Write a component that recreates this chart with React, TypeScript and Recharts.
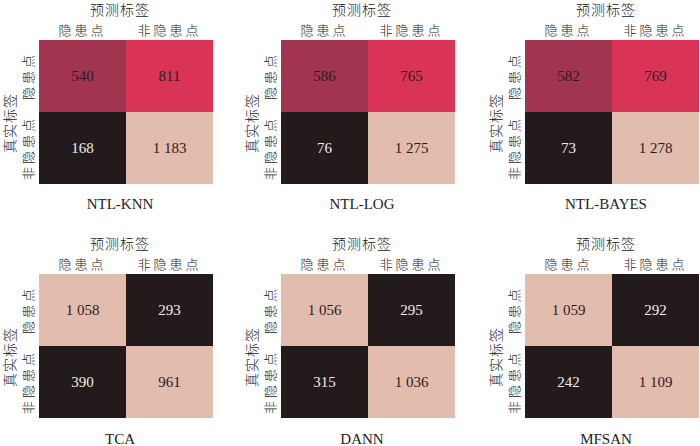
import React from 'react';
import { ScatterChart, Scatter, XAxis, YAxis, Label } from 'recharts';

// row-major: [真实=隐患点 → 预测 隐患点, 非隐患点], [真实=非隐患点 → ...]
const predLabels = ['隐患点', '非隐患点'];
const trueLabels = ['隐患点', '非隐患点'];
const modelNames = ['NTL-KNN', 'NTL-LOG', 'NTL-BAYES', 'TCA', 'DANN', 'MFSAN'];

const knnValues = [540, 811, 168, 1183];
const logValues = [586, 765, 76, 1275];
const bayesValues = [582, 769, 73, 1278];
const tcaValues = [1058, 293, 390, 961];
const dannValues = [1056, 295, 315, 1036];
const mfsanValues = [1059, 292, 242, 1109];

const allValues = [knnValues, logValues, bayesValues, tcaValues, dannValues, mfsanValues];

const binColors = ['#231a1b', '#a1344f', '#d93456', '#e2bcad'];

const CJK = '"Noto Sans CJK SC", sans-serif';
const SERIF = '"Liberation Serif", "Times New Roman", serif';

const AXIS_W = 39;
const TOP_H = 40;
const PLOT_W = 174;
const PLOT_H = 144;
const CELL_W = PLOT_W / 2;
const CELL_H = PLOT_H / 2;
const CHART_W = AXIS_W + PLOT_W + 1;
const CHART_H = TOP_H + PLOT_H + 1;

const colX = [0, 242, 486];
const rowY = [0, 234];
const nameGap = [11, 12];

const fmt = (v: number) =>
  v >= 1000 ? `${Math.floor(v / 1000)} ${String(v % 1000).padStart(3, '0')}` : String(v);

const binOf = (v: number, min: number, max: number) => {
  const t = (v - min) / (max - min);
  return Math.min(3, Math.floor(t * 4));
};

const CellShape = (props: any) => {
  const { cx, cy, payload } = props;
  const dark = payload.bin === 0;
  return (
    <g>
      <rect x={cx - CELL_W / 2} y={cy - CELL_H / 2} width={CELL_W} height={CELL_H} fill={binColors[payload.bin]} />
      <text
        x={cx}
        y={cy}
        textAnchor="middle"
        dominantBaseline="central"
        fontFamily={SERIF}
        fontSize={15}
        fill={dark ? '#f3ecec' : '#2a1c1e'}
      >
        {fmt(payload.value)}
      </text>
    </g>
  );
};

const TopTick = (props: any) => {
  const { x, y, payload } = props;
  return (
    <text x={x} y={y} textAnchor="middle" fontFamily={CJK} fontWeight={300} fontSize={13} fill="#222" style={{ letterSpacing: 3 }}>
      {payload.value}
    </text>
  );
};

const SideTick = (props: any) => {
  const { x, y, payload } = props;
  return (
    <text
      x={x}
      y={y}
      transform={`rotate(-90 ${x} ${y})`}
      textAnchor="middle"
      fontFamily={CJK}
      fontWeight={300}
      fontSize={13}
      fill="#222"
      style={{ letterSpacing: 3 }}
    >
      {payload.value}
    </text>
  );
};

const TitleLabel = (props: any) => {
  const { x, y, width } = props.viewBox;
  return (
    <text
      x={x + width / 2 - 6}
      y={y + 15}
      textAnchor="middle"
      fontFamily={CJK}
      fontWeight={300}
      fontSize={14}
      fill="#222"
      style={{ letterSpacing: 1 }}
    >
      预测标签
    </text>
  );
};

const SideLabel = (props: any) => {
  const { x, y, height } = props.viewBox;
  const lx = x + 15;
  const ly = y + height / 2 + 11;
  return (
    <text
      x={lx}
      y={ly}
      transform={`rotate(-90 ${lx} ${ly})`}
      textAnchor="middle"
      fontFamily={CJK}
      fontWeight={300}
      fontSize={14}
      fill="#222"
      style={{ letterSpacing: 1 }}
    >
      真实标签
    </text>
  );
};

const Matrix = ({ name, values, left, top, gap }: { name: string; values: number[]; left: number; top: number; gap: number }) => {
  const min = Math.min(...values);
  const max = Math.max(...values);
  const data = values.map((v, i) => ({
    actual: trueLabels[Math.floor(i / 2)],
    pred: predLabels[i % 2],
    value: v,
    bin: binOf(v, min, max),
  }));
  return (
    <div style={{ position: 'absolute', left, top, width: CHART_W, height: CHART_H + 30 }}>
      <ScatterChart width={CHART_W} height={CHART_H} margin={{ top: 0, right: 1, bottom: 1, left: 0 }}>
        <XAxis
          type="category"
          dataKey="pred"
          orientation="top"
          allowDuplicatedCategory={false}
          axisLine={false}
          tickLine={false}
          tickSize={0}
          tickMargin={5}
          height={TOP_H}
          interval={0}
          tick={<TopTick />}
        >
          <Label content={<TitleLabel />} />
        </XAxis>
        <YAxis
          type="category"
          dataKey="actual"
          reversed
          allowDuplicatedCategory={false}
          axisLine={false}
          tickLine={false}
          tickSize={0}
          tickMargin={6}
          width={AXIS_W}
          interval={0}
          tick={<SideTick />}
        >
          <Label content={<SideLabel />} />
        </YAxis>
        <Scatter data={data} shape={<CellShape />} isAnimationActive={false} />
      </ScatterChart>
      <div
        style={{
          position: 'absolute',
          left: AXIS_W - 6,
          top: CHART_H + gap,
          width: PLOT_W,
          textAlign: 'center',
          fontFamily: SERIF,
          fontSize: 15,
          color: '#222',
          lineHeight: '17px',
        }}
      >
        {name}
      </div>
    </div>
  );
};

export default function App() {
  return (
    <div style={{ position: 'absolute', left: 0, top: 0, width: 700, height: 446, background: '#fff', overflow: 'hidden' }}>
      <style>{'.recharts-surface { overflow: visible; }'}</style>
      {modelNames.map((name, i) => (
        <Matrix
          key={name}
          name={name}
          values={allValues[i]}
          left={colX[i % 3]}
          top={rowY[Math.floor(i / 3)]}
          gap={nameGap[Math.floor(i / 3)]}
        />
      ))}
    </div>
  );
}
